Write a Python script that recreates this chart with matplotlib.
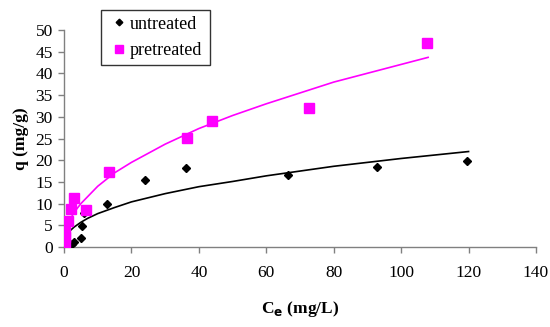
import matplotlib
matplotlib.use("Agg")
import matplotlib.pyplot as plt

ce_untreated = [2.3, 3.0, 4.9, 5.3, 5.9, 12.8, 23.9, 36.2, 66.3, 92.9, 119.6]
q_untreated = [0.8, 1.2, 2.1, 4.9, 7.8, 9.8, 15.4, 18.3, 16.7, 18.4, 19.9]

ce_pretreated = [0.4, 0.4, 0.4, 1.2, 2.0, 3.0, 6.4, 13.2, 36.6, 43.9, 72.7, 107.7]
q_pretreated = [0.9, 2.4, 3.5, 6.0, 8.8, 11.2, 8.5, 17.2, 25.2, 29.0, 32.0, 47.1]

# fitted curves
fit_x_untreated = [0.5, 1, 2, 3, 5, 7, 10, 15, 20, 30, 40, 50, 60, 80, 100, 120]
fit_y_untreated = [2.1, 2.9, 3.9, 4.6, 5.7, 6.6, 7.7, 9.1, 10.4, 12.3, 13.9, 15.1, 16.4, 18.6, 20.4, 22.0]

fit_x_pretreated = [0.3, 1, 2, 3, 5, 7, 10, 15, 20, 30, 40, 50, 60, 80, 108]
fit_y_pretreated = [2.5, 4.6, 6.6, 8.0, 10.0, 11.6, 14.0, 17.1, 19.5, 23.7, 27.3, 30.3, 33.0, 38.0, 43.7]

plt.rcParams['font.family'] = ['Liberation Serif', 'DejaVu Serif']

fig = plt.figure(figsize=(5.5, 3.27), dpi=100)
ax = fig.add_axes([0.1164, 0.2446, 0.8581, 0.6636])

ax.plot(fit_x_untreated, fit_y_untreated, color='black', lw=1.2, zorder=2)
ax.plot(fit_x_pretreated, fit_y_pretreated, color='#FF00FF', lw=1.2, zorder=2)
ax.plot(ce_untreated, q_untreated, 'D', color='black', ms=4.2, ls='none',
        label='untreated', zorder=3)
ax.plot(ce_pretreated, q_pretreated, 's', color='#FF00FF', ms=6.5, ls='none',
        label='pretreated', zorder=3)

ax.set_xlim(0, 140)
ax.set_ylim(0, 50)
ax.set_xticks(range(0, 141, 20))
ax.set_yticks(range(0, 51, 5))
ax.spines['top'].set_visible(False)
ax.spines['right'].set_visible(False)
for s in ['left', 'bottom']:
    ax.spines[s].set_color('#808080')
    ax.spines[s].set_linewidth(1.0)
ax.tick_params(axis='both', colors='#808080', labelcolor='black', labelsize=12.5,
               direction='out', length=4, width=1.0)
ax.tick_params(axis='x', pad=9)
ax.tick_params(axis='y', pad=4)

ax.set_xlabel('C$_\\mathbf{e}$ (mg/L)', fontsize=12.5, fontweight='bold', labelpad=13)
ax.set_ylabel('q (mg/g)', fontsize=12.5, fontweight='bold', labelpad=5)

# legend frame spans a fixed box
leg = fig.legend(loc='upper left', bbox_to_anchor=(0.1836, 0.6, 0.198, 0.369),
                 mode='expand', fontsize=13, frameon=True, fancybox=False,
                 edgecolor='black', handlelength=1.4, handletextpad=-0.1,
                 borderpad=0.3, labelspacing=0.53, markerscale=0.8, borderaxespad=0)
leg.get_frame().set_linewidth(1.0)

plt.savefig('out.png', dpi=100)
